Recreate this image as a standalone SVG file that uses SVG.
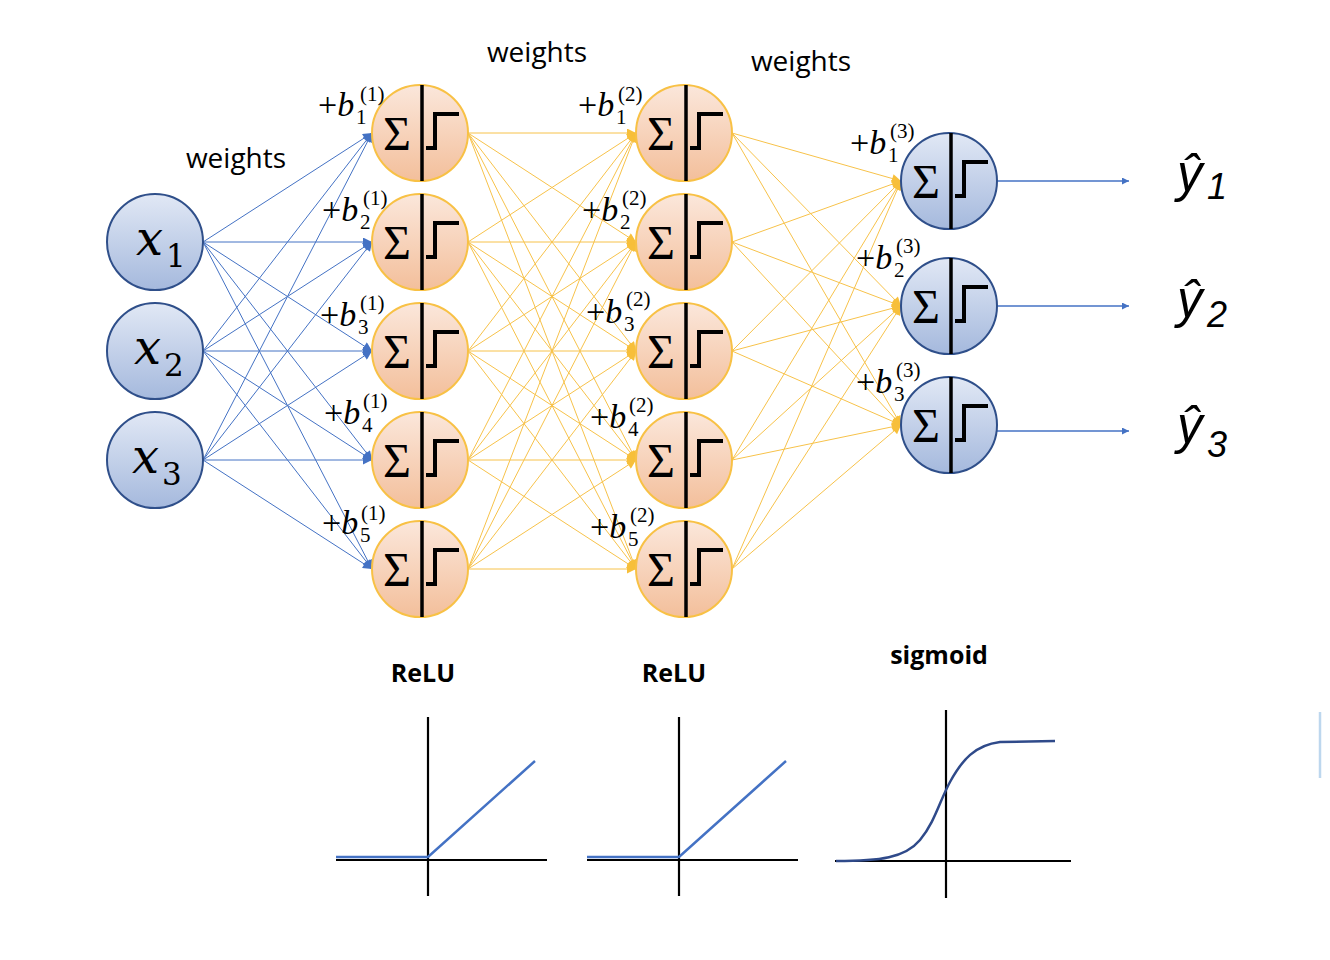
<svg xmlns="http://www.w3.org/2000/svg" width="1330" height="960" viewBox="0 0 1330 960">
<defs>
<linearGradient id="gO" x1="0" y1="0" x2="0" y2="1"><stop offset="0" stop-color="#fbe7db"/><stop offset="1" stop-color="#f3bf9b"/></linearGradient>
<linearGradient id="gB" x1="0" y1="0" x2="0" y2="1"><stop offset="0" stop-color="#e1e8f5"/><stop offset="1" stop-color="#a5b9dd"/></linearGradient>
<marker id="ab" viewBox="0 0 10 10" refX="10" refY="5" markerWidth="11" markerHeight="9" orient="auto" markerUnits="userSpaceOnUse"><path d="M0,0 L10,5 L0,10 z" fill="#4472c4"/></marker>
<marker id="ay" viewBox="0 0 10 10" refX="10" refY="5" markerWidth="11" markerHeight="9" orient="auto" markerUnits="userSpaceOnUse"><path d="M0,0 L10,5 L0,10 z" fill="#f7bf3a"/></marker>
<marker id="ao" viewBox="0 0 10 10" refX="10" refY="5" markerWidth="9" markerHeight="7" orient="auto" markerUnits="userSpaceOnUse"><path d="M0,0 L10,5 L0,10 z" fill="#4472c4"/></marker>
</defs>
<style>
.on{fill:url(#gO);stroke:#f8c145;stroke-width:2}
.bn{fill:url(#gB);stroke:#2f4f8a;stroke-width:2}
.vl{stroke:#000;stroke-width:3.5}
.st{fill:none;stroke:#000;stroke-width:4}
.sg{font-family:"Liberation Serif",serif;font-size:48px;fill:#000;text-anchor:middle}
.cb{stroke:#4472c4;stroke-width:1;marker-end:url(#ab)}
.cy{stroke:#f7c24a;stroke-width:1;marker-end:url(#ay)}
.co{stroke:#4472c4;stroke-width:1.3;marker-end:url(#ao)}
.wt{font-family:"Open Sans",sans-serif;font-size:28px;fill:#000;text-anchor:middle}
.fl{font-family:"Open Sans",sans-serif;font-size:25px;font-weight:bold;fill:#000;text-anchor:middle}
.bs{font-family:"Liberation Serif",serif;font-size:34px;fill:#000}
.bi{font-style:italic}
.sp{font-family:"Liberation Serif",serif;font-size:21px;fill:#000}
.xl{font-family:"DejaVu Serif",serif;font-style:italic;font-size:48px;fill:#000}
.xs{font-family:"DejaVu Serif",serif;font-size:31px;fill:#000}
.yl{font-family:"Liberation Sans",sans-serif;font-style:italic;font-size:51px;fill:#000}
.ys{font-family:"Liberation Sans",sans-serif;font-style:italic;font-size:36px;fill:#000}
.ax{stroke:#000;stroke-width:2.2}
.fn{fill:none;stroke:#4472c4;stroke-width:2.5}
.fs{fill:none;stroke:#2f4a8a;stroke-width:2.5}
</style>
<rect width="1330" height="960" fill="#fff"/>
<g id="connectors">
<line class="cb" x1="203" y1="242" x2="372" y2="133"/>
<line class="cb" x1="203" y1="242" x2="372" y2="242"/>
<line class="cb" x1="203" y1="242" x2="372" y2="351"/>
<line class="cb" x1="203" y1="242" x2="372" y2="460"/>
<line class="cb" x1="203" y1="242" x2="372" y2="569"/>
<line class="cb" x1="203" y1="351" x2="372" y2="133"/>
<line class="cb" x1="203" y1="351" x2="372" y2="242"/>
<line class="cb" x1="203" y1="351" x2="372" y2="351"/>
<line class="cb" x1="203" y1="351" x2="372" y2="460"/>
<line class="cb" x1="203" y1="351" x2="372" y2="569"/>
<line class="cb" x1="203" y1="460" x2="372" y2="133"/>
<line class="cb" x1="203" y1="460" x2="372" y2="242"/>
<line class="cb" x1="203" y1="460" x2="372" y2="351"/>
<line class="cb" x1="203" y1="460" x2="372" y2="460"/>
<line class="cb" x1="203" y1="460" x2="372" y2="569"/>
<line class="cy" x1="468" y1="133" x2="636" y2="133"/>
<line class="cy" x1="468" y1="133" x2="636" y2="242"/>
<line class="cy" x1="468" y1="133" x2="636" y2="351"/>
<line class="cy" x1="468" y1="133" x2="636" y2="460"/>
<line class="cy" x1="468" y1="133" x2="636" y2="569"/>
<line class="cy" x1="468" y1="242" x2="636" y2="133"/>
<line class="cy" x1="468" y1="242" x2="636" y2="242"/>
<line class="cy" x1="468" y1="242" x2="636" y2="351"/>
<line class="cy" x1="468" y1="242" x2="636" y2="460"/>
<line class="cy" x1="468" y1="242" x2="636" y2="569"/>
<line class="cy" x1="468" y1="351" x2="636" y2="133"/>
<line class="cy" x1="468" y1="351" x2="636" y2="242"/>
<line class="cy" x1="468" y1="351" x2="636" y2="351"/>
<line class="cy" x1="468" y1="351" x2="636" y2="460"/>
<line class="cy" x1="468" y1="351" x2="636" y2="569"/>
<line class="cy" x1="468" y1="460" x2="636" y2="133"/>
<line class="cy" x1="468" y1="460" x2="636" y2="242"/>
<line class="cy" x1="468" y1="460" x2="636" y2="351"/>
<line class="cy" x1="468" y1="460" x2="636" y2="460"/>
<line class="cy" x1="468" y1="460" x2="636" y2="569"/>
<line class="cy" x1="468" y1="569" x2="636" y2="133"/>
<line class="cy" x1="468" y1="569" x2="636" y2="242"/>
<line class="cy" x1="468" y1="569" x2="636" y2="351"/>
<line class="cy" x1="468" y1="569" x2="636" y2="460"/>
<line class="cy" x1="468" y1="569" x2="636" y2="569"/>
<line class="cy" x1="732" y1="133" x2="901" y2="181"/>
<line class="cy" x1="732" y1="133" x2="901" y2="306"/>
<line class="cy" x1="732" y1="133" x2="901" y2="425"/>
<line class="cy" x1="732" y1="242" x2="901" y2="181"/>
<line class="cy" x1="732" y1="242" x2="901" y2="306"/>
<line class="cy" x1="732" y1="242" x2="901" y2="425"/>
<line class="cy" x1="732" y1="351" x2="901" y2="181"/>
<line class="cy" x1="732" y1="351" x2="901" y2="306"/>
<line class="cy" x1="732" y1="351" x2="901" y2="425"/>
<line class="cy" x1="732" y1="460" x2="901" y2="181"/>
<line class="cy" x1="732" y1="460" x2="901" y2="306"/>
<line class="cy" x1="732" y1="460" x2="901" y2="425"/>
<line class="cy" x1="732" y1="569" x2="901" y2="181"/>
<line class="cy" x1="732" y1="569" x2="901" y2="306"/>
<line class="cy" x1="732" y1="569" x2="901" y2="425"/>
<line class="co" x1="997" y1="181" x2="1129" y2="181"/>
<line class="co" x1="997" y1="306" x2="1129" y2="306"/>
<line class="co" x1="997" y1="431" x2="1129" y2="431"/>
</g>
<g id="input-x1"><circle class="bn" cx="155" cy="242" r="48"/><text class="xl" x="136" y="255">x</text><text class="xs" x="166" y="267">1</text></g>
<g id="input-x2"><circle class="bn" cx="155" cy="351" r="48"/><text class="xl" x="134" y="364">x</text><text class="xs" x="164" y="376">2</text></g>
<g id="input-x3"><circle class="bn" cx="155" cy="460" r="48"/><text class="xl" x="132" y="473">x</text><text class="xs" x="162" y="485">3</text></g>

<g id="h1-1"><circle class="on" cx="420" cy="133" r="48"/><line class="vl" x1="422" y1="85" x2="422" y2="181"/><text class="sg" x="397" y="150">Σ</text><path class="st" d="M426,148 H435 V114 H459"/></g>
<g id="h1-2"><circle class="on" cx="420" cy="242" r="48"/><line class="vl" x1="422" y1="194" x2="422" y2="290"/><text class="sg" x="397" y="259">Σ</text><path class="st" d="M426,257 H435 V223 H459"/></g>
<g id="h1-3"><circle class="on" cx="420" cy="351" r="48"/><line class="vl" x1="422" y1="303" x2="422" y2="399"/><text class="sg" x="397" y="368">Σ</text><path class="st" d="M426,366 H435 V332 H459"/></g>
<g id="h1-4"><circle class="on" cx="420" cy="460" r="48"/><line class="vl" x1="422" y1="412" x2="422" y2="508"/><text class="sg" x="397" y="477">Σ</text><path class="st" d="M426,475 H435 V441 H459"/></g>
<g id="h1-5"><circle class="on" cx="420" cy="569" r="48"/><line class="vl" x1="422" y1="521" x2="422" y2="617"/><text class="sg" x="397" y="586">Σ</text><path class="st" d="M426,584 H435 V550 H459"/></g>

<g id="h2-1"><circle class="on" cx="684" cy="133" r="48"/><line class="vl" x1="686" y1="85" x2="686" y2="181"/><text class="sg" x="661" y="150">Σ</text><path class="st" d="M690,148 H699 V114 H723"/></g>
<g id="h2-2"><circle class="on" cx="684" cy="242" r="48"/><line class="vl" x1="686" y1="194" x2="686" y2="290"/><text class="sg" x="661" y="259">Σ</text><path class="st" d="M690,257 H699 V223 H723"/></g>
<g id="h2-3"><circle class="on" cx="684" cy="351" r="48"/><line class="vl" x1="686" y1="303" x2="686" y2="399"/><text class="sg" x="661" y="368">Σ</text><path class="st" d="M690,366 H699 V332 H723"/></g>
<g id="h2-4"><circle class="on" cx="684" cy="460" r="48"/><line class="vl" x1="686" y1="412" x2="686" y2="508"/><text class="sg" x="661" y="477">Σ</text><path class="st" d="M690,475 H699 V441 H723"/></g>
<g id="h2-5"><circle class="on" cx="684" cy="569" r="48"/><line class="vl" x1="686" y1="521" x2="686" y2="617"/><text class="sg" x="661" y="586">Σ</text><path class="st" d="M690,584 H699 V550 H723"/></g>

<g id="out-1"><circle class="bn" cx="949" cy="181" r="48"/><line class="vl" x1="951" y1="133" x2="951" y2="229"/><text class="sg" x="926" y="198">Σ</text><path class="st" d="M955,196 H964 V162 H988"/></g>
<g id="out-2"><circle class="bn" cx="949" cy="306" r="48"/><line class="vl" x1="951" y1="258" x2="951" y2="354"/><text class="sg" x="926" y="323">Σ</text><path class="st" d="M955,321 H964 V287 H988"/></g>
<g id="out-3"><circle class="bn" cx="949" cy="425" r="48"/><line class="vl" x1="951" y1="377" x2="951" y2="473"/><text class="sg" x="926" y="442">Σ</text><path class="st" d="M955,440 H964 V406 H988"/></g>

<g id="bias-labels">
<text class="bs" x="318" y="116">+<tspan class="bi">b</tspan></text><text class="sp" x="356" y="124">1</text><text class="sp" x="360" y="101">(1)</text>
<text class="bs" x="322" y="221">+<tspan class="bi">b</tspan></text><text class="sp" x="360" y="229">2</text><text class="sp" x="363" y="205">(1)</text>
<text class="bs" x="320" y="326">+<tspan class="bi">b</tspan></text><text class="sp" x="358" y="334">3</text><text class="sp" x="360" y="310">(1)</text>
<text class="bs" x="324" y="424">+<tspan class="bi">b</tspan></text><text class="sp" x="362" y="432">4</text><text class="sp" x="363" y="408">(1)</text>
<text class="bs" x="322" y="534">+<tspan class="bi">b</tspan></text><text class="sp" x="360" y="542">5</text><text class="sp" x="361" y="520">(1)</text>
<text class="bs" x="578" y="116">+<tspan class="bi">b</tspan></text><text class="sp" x="616" y="124">1</text><text class="sp" x="618" y="101">(2)</text>
<text class="bs" x="582" y="221">+<tspan class="bi">b</tspan></text><text class="sp" x="620" y="229">2</text><text class="sp" x="622" y="205">(2)</text>
<text class="bs" x="586" y="323">+<tspan class="bi">b</tspan></text><text class="sp" x="624" y="331">3</text><text class="sp" x="626" y="306">(2)</text>
<text class="bs" x="590" y="428">+<tspan class="bi">b</tspan></text><text class="sp" x="628" y="436">4</text><text class="sp" x="629" y="412">(2)</text>
<text class="bs" x="590" y="538">+<tspan class="bi">b</tspan></text><text class="sp" x="628" y="546">5</text><text class="sp" x="630" y="522">(2)</text>
<text class="bs" x="850" y="154">+<tspan class="bi">b</tspan></text><text class="sp" x="888" y="162">1</text><text class="sp" x="890" y="138">(3)</text>
<text class="bs" x="856" y="269">+<tspan class="bi">b</tspan></text><text class="sp" x="894" y="277">2</text><text class="sp" x="896" y="253">(3)</text>
<text class="bs" x="856" y="393">+<tspan class="bi">b</tspan></text><text class="sp" x="894" y="401">3</text><text class="sp" x="896" y="377">(3)</text>
</g>

<g id="weights-labels">
<text class="wt" x="236" y="168">weights</text>
<text class="wt" x="537" y="62">weights</text>
<text class="wt" x="801" y="71">weights</text>
</g>

<g id="outputs">
<text class="yl" x="1177" y="191">ŷ</text><text class="ys" x="1207" y="199">1</text>
<text class="yl" x="1177" y="317">ŷ</text><text class="ys" x="1207" y="327">2</text>
<text class="yl" x="1177" y="443">ŷ</text><text class="ys" x="1207" y="457">3</text>
</g>

<g id="activation-charts">
<text class="fl" x="423" y="682">ReLU</text>
<text class="fl" x="674" y="682">ReLU</text>
<text class="fl" x="939" y="664">sigmoid</text>
<line class="ax" x1="428" y1="717" x2="428" y2="896"/>
<line class="ax" x1="336" y1="860" x2="547" y2="860"/>
<polyline class="fn" points="336,857 428,857 535,761"/>
<line class="ax" x1="679" y1="717" x2="679" y2="896"/>
<line class="ax" x1="587" y1="860" x2="798" y2="860"/>
<polyline class="fn" points="587,857 679,857 786,761"/>
<line class="ax" x1="946" y1="710" x2="946" y2="898"/>
<line class="ax" x1="835" y1="861" x2="1071" y2="861"/>
<path class="fs" d="M836,861 C880,861 905,858 920,840 C935,822 940,800 950,782 C962,760 975,745 1000,742 L1055,741"/>
</g>
<line x1="1320" y1="712" x2="1320" y2="778" stroke="#bdd7ee" stroke-width="2.5"/>
</svg>
